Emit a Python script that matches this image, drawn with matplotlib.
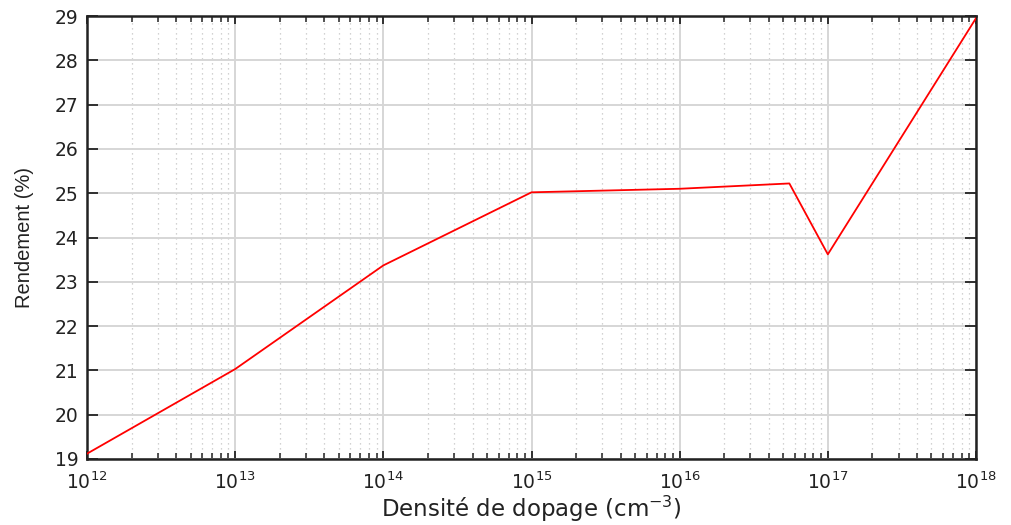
import matplotlib
matplotlib.use("Agg")
import matplotlib.pyplot as plt
from matplotlib.ticker import NullFormatter

# dopage (cm-3) et rendement (%)
dopage = [1e12, 1e13, 1e14, 1e15, 1e16, 5.5e16, 1e17, 1e18]
rendement = [19.12, 21.03, 23.37, 25.02, 25.10, 25.22, 23.62, 28.95]

plt.rcParams['font.family'] = ['DejaVu Sans']
plt.rcParams['mathtext.default'] = 'regular'

fig = plt.figure(figsize=(10.11, 5.25), dpi=100)
ax = fig.add_axes([87/1011, 1-459/525, (976-87)/1011, (459-16)/525])

ax.plot(dopage, rendement, color="red", linewidth=1.3, zorder=3)
ax.set_xscale("log")
ax.set_xlim(1e12, 1e18)
ax.set_ylim(19, 29)
ax.set_yticks(range(19, 30))
ax.xaxis.set_minor_formatter(NullFormatter())

ax.grid(True, which="major", color="#d6d6d6", linewidth=1.4, linestyle="-")
ax.grid(True, which="minor", axis="x", color="#c4c4c4", linewidth=0.9, linestyle=(0, (1, 3)))
ax.set_axisbelow(True)

ax.tick_params(which="both", direction="in", top=True, right=True, colors="#222222")
ax.tick_params(axis="y", which="major", length=8, width=1.3, labelsize=13.5, pad=6)
ax.tick_params(axis="x", which="major", length=6, width=1.3, labelsize=13.5, pad=9)
ax.tick_params(which="minor", length=4, width=1.1)
for s in ax.spines.values():
    s.set_linewidth(1.8)
    s.set_color("#222222")

ax.set_xlabel("Densité de dopage (cm$^{-3}$)", fontsize=16.5, color="#222222")
ax.xaxis.set_label_coords(0.5, -0.079)
ax.set_ylabel("Rendement (%)", fontsize=14.5, color="#222222", family=['Liberation Sans'])
ax.yaxis.set_label_coords(-0.06, 0.5)

fig.savefig("out.png", dpi=100)
